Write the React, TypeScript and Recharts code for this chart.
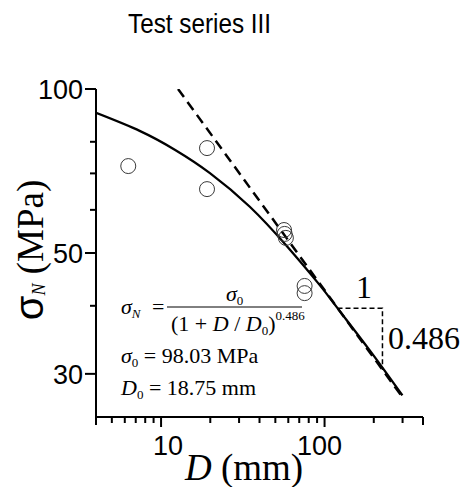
import React from 'react';
import { ComposedChart, Line, Scatter, XAxis, YAxis } from 'recharts';

// fitted size-effect curve
const curveD = [4, 7.45, 12.2, 19.9, 34.9, 58.7, 93.2, 120, 188, 299];
const curveS = [90.4, 83.7, 77.3, 70.1, 60.8, 51.5, 43.7, 39.6, 33.2, 27.4];

// asymptote (dashed)
const asymD = [12.7, 299];
const asymS = [100, 27.2];

// slope triangle
const triD = [120, 226, 226];
const triS = [39.6, 39.6, 30.5];

// test results
const testD = [6.3, 19.1, 19.1, 56.5, 57, 58, 75.5, 75.5];
const testS = [72.2, 77.9, 65.5, 55.1, 54.2, 53.3, 43.5, 42.2];

const xTicks = [4, 5, 6, 7, 8, 9, 10, 20, 30, 40, 50, 60, 70, 80, 90, 100, 200, 300, 400];
const xLabels = [10, 100];
const yTicks = [30, 40, 50, 60, 70, 80, 100];
const yLabels = [30, 50, 100];

const curveData = curveD.map((d, i) => ({ D: d, s: curveS[i] }));
const asymData = asymD.map((d, i) => ({ D: d, s: asymS[i] }));
const triData = triD.map((d, i) => ({ D: d, s: triS[i] }));
const testData = testD.map((d, i) => ({ D: d, s: testS[i] }));

const SANS = '"Liberation Sans", Arial, sans-serif';
const SERIF = '"Liberation Serif", "Times New Roman", serif';

const XTick = (props: any) => {
  const { x, y, payload } = props;
  const v = payload.value;
  const major = xLabels.includes(v);
  const len = major ? 10 : v === 4 || v === 400 ? 8 : 6;
  const dx = v === 10 ? 7 : v === 100 ? -5 : 0;
  return (
    <g>
      <line x1={x} x2={x} y1={y} y2={y + len} stroke="#000" strokeWidth={2} />
      {major && (
        <text x={x + dx} y={y + 38} textAnchor="middle" fontFamily={SANS} fontSize={27} fill="#000">
          {v}
        </text>
      )}
    </g>
  );
};

const YTick = (props: any) => {
  const { x, y, payload } = props;
  const v = payload.value;
  const major = yLabels.includes(v);
  const len = major ? 11 : 6;
  return (
    <g>
      <line x1={x - len} x2={x} y1={y} y2={y} stroke="#000" strokeWidth={2} />
      {major && (
        <text x={x - 13} y={y + 10} textAnchor="end" fontFamily={SANS} fontSize={27} fill="#000">
          {v}
        </text>
      )}
    </g>
  );
};

const Circle = (props: any) => {
  const { cx, cy } = props;
  return <circle cx={cx} cy={cy} r={7.5} fill="none" stroke="#3a3a3a" strokeWidth={1} />;
};

const Overlay = () => (
  <svg
    width={467}
    height={487}
    style={{ position: 'absolute', left: 0, top: 0, pointerEvents: 'none' }}
  >
    <text x={128} y={33} fontFamily={SANS} fontSize={27} textLength={143} lengthAdjust="spacingAndGlyphs">
      Test series III
    </text>

    {/* y axis title */}
    <text transform="translate(43,250) rotate(-90)" textAnchor="middle">
      <tspan fontFamily={SANS} fontSize={40}>σ</tspan>
      <tspan fontFamily={SERIF} fontStyle="italic" fontSize={18} dy={2}>N</tspan>
      <tspan fontFamily={SERIF} fontSize={37} dy={-2}> (MPa)</tspan>
    </text>

    {/* x axis title */}
    <text x={185} y={480} fontFamily={SERIF} fontSize={37}>
      <tspan fontStyle="italic">D</tspan> (mm)
    </text>

    {/* formula */}
    <g fontFamily={SERIF} fontSize={22} fill="#000">
      <text x={121} y={314}>
        <tspan fontStyle="italic">σ</tspan>
        <tspan fontStyle="italic" fontSize={13} dy={4}>N</tspan>
      </text>
      <text x={152} y={314}>=</text>
      <line x1={167} x2={302} y1={307} y2={307} stroke="#000" strokeWidth={1} />
      <text x={226} y={301}>
        <tspan fontStyle="italic">σ</tspan>
        <tspan fontSize={13} dy={4}>0</tspan>
      </text>
      <text x={171} y={331}>
        (1 + <tspan fontStyle="italic">D</tspan> / <tspan fontStyle="italic">D</tspan>
        <tspan fontSize={13} dy={4}>0</tspan>
        <tspan dy={-4}>)</tspan>
        <tspan fontSize={13} dy={-11}>0.486</tspan>
      </text>
      <text x={121} y={363}>
        <tspan fontStyle="italic">σ</tspan>
        <tspan fontSize={13} dy={4}>0</tspan>
        <tspan dy={-4}> = 98.03 MPa</tspan>
      </text>
      <text x={121} y={395}>
        <tspan fontStyle="italic">D</tspan>
        <tspan fontSize={13} dy={4}>0</tspan>
        <tspan dy={-4}> = 18.75 mm</tspan>
      </text>
    </g>

    {/* slope triangle labels */}
    <text x={364} y={298} textAnchor="middle" fontFamily={SERIF} fontSize={32}>1</text>
    <text x={388} y={349} fontFamily={SERIF} fontSize={32}>0.486</text>
  </svg>
);

const App: React.FC = () => {
  return (
    <div style={{ position: 'absolute', left: 0, top: 0, width: 467, height: 487, background: '#fff' }}>
      <ComposedChart width={467} height={487} margin={{ top: 89, right: 44, bottom: 0, left: 0 }}>
        <XAxis
          dataKey="D"
          type="number"
          scale="log"
          domain={[4, 400]}
          allowDataOverflow
          ticks={xTicks}
          interval={0}
          height={70}
          tickSize={0}
          tickMargin={0}
          tickLine={false}
          tick={<XTick />}
          axisLine={{ stroke: '#000', strokeWidth: 2 }}
        />
        <YAxis
          dataKey="s"
          type="number"
          scale="log"
          domain={[25, 100]}
          allowDataOverflow
          ticks={yTicks}
          interval={0}
          width={96}
          tickSize={0}
          tickMargin={0}
          tickLine={false}
          tick={<YTick />}
          axisLine={{ stroke: '#000', strokeWidth: 2 }}
        />
        <Line
          data={asymData}
          dataKey="s"
          type="linear"
          stroke="#000"
          strokeWidth={2.5}
          strokeDasharray="10 6"
          dot={false}
          isAnimationActive={false}
        />
        <Line
          data={curveData}
          dataKey="s"
          type="natural"
          stroke="#000"
          strokeWidth={2.3}
          dot={false}
          isAnimationActive={false}
        />
        <Line
          data={triData}
          dataKey="s"
          type="linear"
          stroke="#000"
          strokeWidth={1.5}
          strokeDasharray="5 3"
          dot={false}
          isAnimationActive={false}
        />
        <Scatter data={testData} dataKey="s" shape={<Circle />} isAnimationActive={false} />
      </ComposedChart>
      <Overlay />
    </div>
  );
};

export default App;
